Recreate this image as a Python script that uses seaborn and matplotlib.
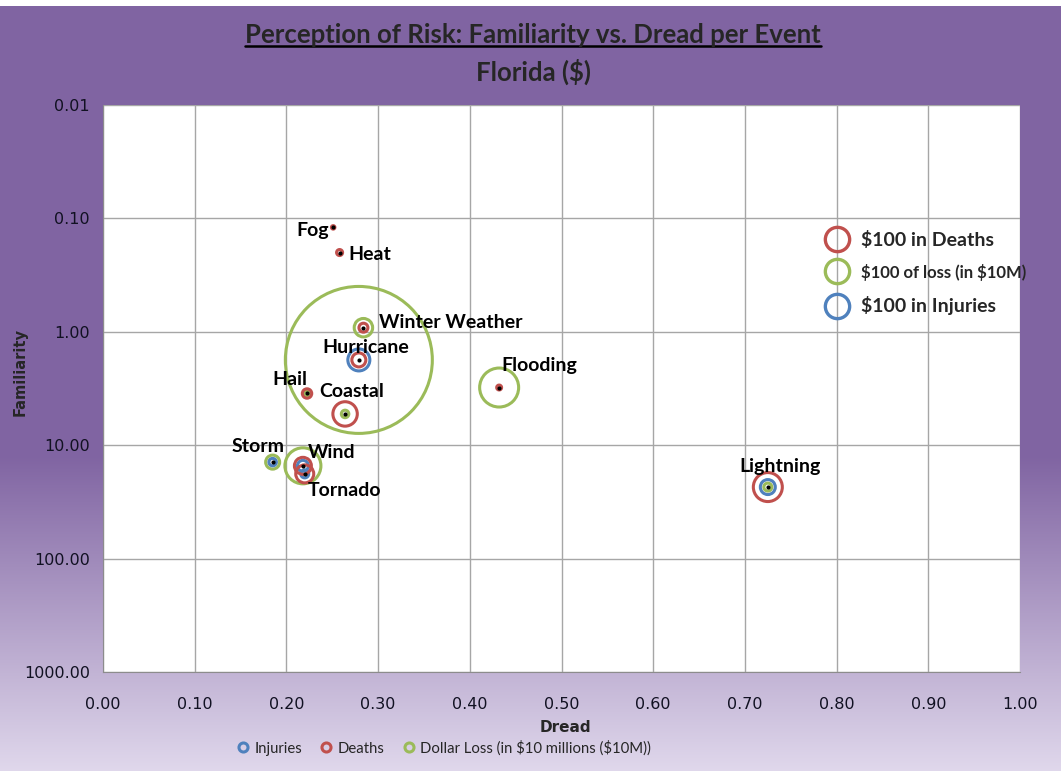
import numpy as np
import pandas as pd
import matplotlib
matplotlib.use("Agg")
import matplotlib.pyplot as plt
import seaborn as sns
from matplotlib.lines import Line2D

# ---------------- data ----------------
events = ["Fog", "Heat", "Winter Weather", "Hurricane", "Hail", "Coastal",
          "Flooding", "Storm", "Wind", "Tornado", "Lightning"]
dread = [0.251, 0.258, 0.284, 0.279, 0.2225, 0.264, 0.432, 0.185, 0.218, 0.220, 0.725]
familiarity = [0.12, 0.20, 0.92, 1.77, 3.5, 5.3, 3.1, 14.1, 15.2, 17.9, 23.4]
deaths = [3, 9, 20, 49, 22, 149, 6, 0, 72, 81, 210]       # $100 in deaths
injuries = [0, 0, 0, 121, 0, 0, 0, 14, 30, 16, 56]         # $100 in injuries
loss = [0, 0, 85, 5400, 9, 14, 380, 49, 324, 0, 16]        # $100 of loss (in $10M)

y_ticks = [0.01, 0.1, 1, 10, 100, 1000]
x_ticks = [0.0, 0.1, 0.2, 0.3, 0.4, 0.5, 0.6, 0.7, 0.8, 0.9, 1.0]

title = "Perception of Risk: Familiarity vs. Dread per Event"
subtitle = "Florida ($)"
series_names = ["Injuries", "Deaths", "Dollar Loss (in $10 millions ($10M))"]
inner_legend = ["$100 in Deaths", "$100 of loss (in $10M)", "$100 in Injuries"]

# label offsets (pixels: right, down) of label centre from the point
label_offsets = {
    "Fog": (-20, 3), "Heat": (30, 2), "Winter Weather": (87, -5),
    "Hurricane": (7, -12), "Hail": (-17, -14), "Coastal": (7, -22),
    "Flooding": (40, -22), "Storm": (-15, -16), "Wind": (29, -13),
    "Tornado": (40, 17), "Lightning": (12, -21),
}

RED = "#C0504D"
GREEN = "#9BBB59"
BLUE = "#4F81BD"

df = pd.DataFrame({"event": events, "dread": dread, "familiarity": familiarity,
                   "deaths": deaths, "injuries": injuries, "loss": loss})

sns.set_style("white")
plt.rcParams["font.family"] = ["DejaVu Sans"]
plt.rcParams["text.parse_math"] = False
CAL = ["Lato", "DejaVu Sans"]

W, H = 1061, 771
fig = plt.figure(figsize=(W / 100, H / 100), dpi=100)
PX = 72 / 100  # points per pixel

# background gradient
bg = fig.add_axes([0, 0, 1, 1], zorder=-10)
rows = np.arange(H)
top = np.array([128, 100, 162]) / 255
bot = np.array([224, 216, 236]) / 255
t = np.clip((rows - 455) / (H - 455), 0, 1)[:, None]
grad = top * (1 - t) + bot * t
grad[:6] = 1.0
bg.imshow(grad[:, None, :].repeat(2, axis=1), aspect="auto", extent=[0, 1, 0, 1])
bg.set_axis_off()

ax = fig.add_axes([103 / W, 1 - 672 / H, (1020 - 103) / W, (672 - 105) / H])
ax.set_facecolor("white")

K = (2 * PX) ** 2  # area in pt^2 per unit -> radius px = sqrt(value)
for col, color in [("loss", GREEN), ("injuries", BLUE), ("deaths", RED)]:
    sub = df[df[col] > 0]
    sns.scatterplot(data=sub, x="dread", y="familiarity", s=sub[col].values * K,
                    facecolors="none", edgecolor=color, linewidth=2.2,
                    ax=ax, legend=False, zorder=3)
sns.scatterplot(data=df, x="dread", y="familiarity", color="black", s=9,
                linewidth=0, ax=ax, legend=False, zorder=5)

for ev, x, y in zip(events, dread, familiarity):
    dx, dy = label_offsets[ev]
    ax.annotate(ev, (x, y), xytext=(dx * PX, -dy * PX), textcoords="offset points",
                ha="center", va="center", fontsize=14, fontweight="bold",
                family=CAL, color="black", zorder=6)

ax.set_yscale("log")
ax.set_xlim(0, 1)
ax.set_ylim(1000, 0.01)
ax.set_yticks(y_ticks)
ax.set_yticklabels([f"{v:.2f}" for v in y_ticks])
ax.yaxis.set_minor_locator(matplotlib.ticker.NullLocator())
ax.set_xticks(x_ticks)
ax.set_xticklabels([f"{v:.2f}" for v in x_ticks])
ax.grid(True, color="#A6A6A6", linewidth=1)
for s in ["top", "right"]:
    ax.spines[s].set_visible(False)
for s in ["left", "bottom"]:
    ax.spines[s].set_color("#8C8C8C")
ax.tick_params(axis="both", which="major", length=6, color="#8C8C8C",
               labelsize=11.5, labelcolor="#111122", direction="out")
ax.tick_params(axis="x", pad=18, length=0)
ax.set_xlabel("")
ax.set_ylabel("")

fig.text(565 / W, 1 - 727 / H, "Dread", ha="center", va="center",
         fontsize=11, fontweight="bold")
fig.text(20 / W, 1 - 372 / H, "Familiarity", ha="center", va="center",
         rotation=90, fontsize=10.5, fontweight="bold")

tt = fig.text(533 / W, 1 - 35 / H, title, ha="center", va="center",
              fontsize=18.5, fontweight="bold", family=CAL)
fig.text(533 / W, 1 - 72 / H, subtitle, ha="center", va="center",
         fontsize=18.5, fontweight="bold", family=CAL)

# inner legend
h_in = [Line2D([], [], linestyle="none", marker="o", markersize=17.5,
               markerfacecolor="none", markeredgecolor=c, markeredgewidth=2.4)
        for c in (RED, GREEN, BLUE)]
leg1 = fig.legend(h_in, inner_legend, loc="upper left",
                  bbox_to_anchor=(822 / W, 1 - 231 / H), frameon=False,
                  prop={"family": CAL, "weight": "bold", "size": 14},
                  handlelength=1.5, handletextpad=0.5, labelspacing=0.78,
                  borderpad=0, borderaxespad=0)
leg1.get_texts()[1].set_fontsize(12)

# bottom legend
h_bt = [Line2D([], [], linestyle="none", marker="o", markersize=6.5,
               markerfacecolor="none", markeredgecolor=c, markeredgewidth=2.2)
        for c in (BLUE, RED, GREEN)]
fig.legend(h_bt, series_names, loc="center", ncol=3,
           bbox_to_anchor=(444 / W, 1 - 748 / H), frameon=False,
           prop={"family": CAL, "size": 10.7},
           handlelength=0.8, handletextpad=0.4, columnspacing=1.2,
           borderpad=0, borderaxespad=0)

# underline for the title
fig.canvas.draw()
bb = tt.get_window_extent(fig.canvas.get_renderer())
yline = (bb.y0 + 1) / H
fig.add_artist(Line2D([bb.x0 / W, bb.x1 / W], [yline, yline],
                      transform=fig.transFigure, color="black", linewidth=1.8))

fig.savefig("out.png", dpi=100)
